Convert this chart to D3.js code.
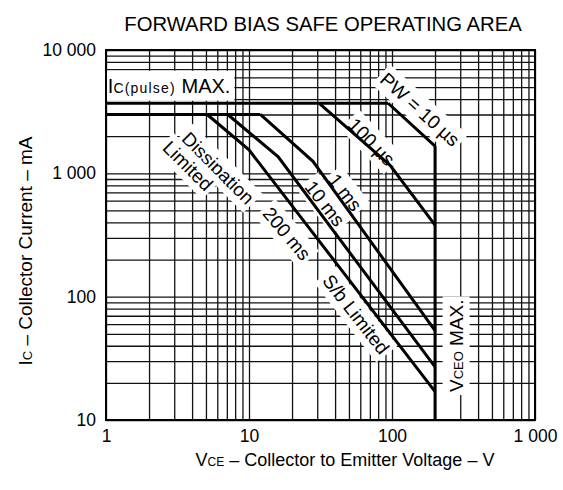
<!DOCTYPE html>
<html>
<head>
<meta charset="utf-8">
<script src="https://cdn.jsdelivr.net/npm/d3@7"></script>
<style>
	body { margin: 0; background: #fff; }
	svg { display: block; font-family: "Liberation Sans", Arial, sans-serif; }
	.grid line { stroke: #111; stroke-width: 1.3; }
	.grid .domain { display: none; }
	.curve { fill: none; stroke: #000; stroke-width: 3; stroke-linejoin: miter; }
</style>
</head>
<body>
<div id="chart"></div>
<script>
// axis ticks
var vTicks = [1, 10, 100, 1000];
var vTickLabels = ["1", "10", "100", "1 000"];
var iTicks = [10, 100, 1000, 10000];
var iTickLabels = ["10", "100", "1 000", "10 000"];

// limits, [VCE (V), IC (mA)]
var icPulseMax = [[1, 3700], [94, 3700]];
var icDcMax = [[1, 3000], [12, 3000]];
var pw10us = [[94, 3700], [200, 1660]];
var pw100us = [[31, 3700], [97, 1160], [200, 380]];
var pw1ms = [[12, 3000], [28, 1250], [200, 53]];
var pw10ms = [[7.1, 3000], [16, 1360], [200, 27]];
var pw200ms = [[5.1, 3000], [10, 1550], [200, 17]];
var vceoMax = [[200, 1660], [200, 10]];

var width = 563, height = 490;
var margin = {top: 50, right: 28, bottom: 70, left: 106};
var plotW = width - margin.left - margin.right;
var plotH = height - margin.top - margin.bottom;

var svg = d3.select("#chart").append("svg")
	.attr("width", width)
	.attr("height", height);

var x = d3.scaleLog().domain([1, 1000]).range([margin.left, margin.left + plotW]);
var y = d3.scaleLog().domain([10, 10000]).range([margin.top + plotH, margin.top]);

// title
svg.append("text")
	.attr("x", 323)
	.attr("y", 31)
	.attr("text-anchor", "middle")
	.attr("font-size", 20.3)
	.text("FORWARD BIAS SAFE OPERATING AREA");

// grid lines
svg.append("g")
	.attr("class", "grid")
	.attr("transform", "translate(0," + (margin.top + plotH) + ")")
	.call(d3.axisBottom(x).ticks(10).tickSize(-plotH).tickFormat(""));

svg.append("g")
	.attr("class", "grid")
	.attr("transform", "translate(" + margin.left + ",0)")
	.call(d3.axisLeft(y).ticks(10).tickSize(-plotW).tickFormat(""));

// tick labels
svg.append("g")
	.attr("transform", "translate(0," + (margin.top + plotH) + ")")
	.call(d3.axisBottom(x).tickValues(vTicks).tickSize(0).tickPadding(10)
		.tickFormat(function(d, i) { return vTickLabels[i]; }))
	.call(function(g) {
		g.select(".domain").remove();
		g.selectAll("text").attr("font-size", 17.5).attr("font-family", null).attr("fill", "#000");
	});

svg.append("g")
	.attr("transform", "translate(" + margin.left + ",0)")
	.call(d3.axisLeft(y).tickValues(iTicks).tickSize(0).tickPadding(10)
		.tickFormat(function(d, i) { return iTickLabels[i]; }))
	.call(function(g) {
		g.select(".domain").remove();
		g.selectAll("text").attr("font-size", 17.5).attr("font-family", null).attr("fill", "#000");
	});

// axis titles
var xTitle = svg.append("text")
	.attr("x", 345)
	.attr("y", 466)
	.attr("text-anchor", "middle")
	.attr("font-size", 18);
xTitle.append("tspan").text("V");
xTitle.append("tspan").attr("font-size", 12).text("CE");
xTitle.append("tspan").text(" \u2013 Collector to Emitter Voltage \u2013 V");

var yTitle = svg.append("text")
	.attr("transform", "translate(32,251) rotate(-90)")
	.attr("text-anchor", "middle")
	.attr("font-size", 19);
yTitle.append("tspan").text("I");
yTitle.append("tspan").attr("font-size", 13).text("C");
yTitle.append("tspan").text(" \u2013 Collector Current \u2013 mA");

// labels inside the plot, white box behind each to break the grid
function addLabel(pos, angle, parts, anchor, pad) {
	var g = svg.append("g")
		.attr("transform", "translate(" + x(pos[0]) + "," + y(pos[1]) + ") rotate(" + angle + ")");
	var t = g.append("text")
		.attr("text-anchor", anchor || "middle")
		.attr("dy", "0.35em")
		.attr("font-size", 19);
	parts.forEach(function(p) {
		var s = t.append("tspan").attr("font-size", p[1]).text(p[0]);
		if (p[2]) s.attr("letter-spacing", p[2]);
	});
	var box = t.node().getBBox();
	pad = pad || 3;
	g.insert("rect", "text")
		.attr("x", box.x - pad)
		.attr("y", box.y - pad)
		.attr("width", box.width + pad * 2)
		.attr("height", box.height + pad * 2)
		.attr("fill", "#fff");
	return g;
}

addLabel([1.03, 5100], 0, [["I", 20], ["C(pulse)", 14, 1.2], [" MAX.", 20]], "start", 4);
addLabel([157, 3300], 42, [["PW = 10 \u00b5s", 19]]);
addLabel([72, 1800], 46, [["100 \u00b5s", 19]]);
addLabel([47, 700], 52, [["1 ms", 19]]);
addLabel([34, 570], 52, [["10 ms", 19]]);
addLabel([18.4, 325], 50, [["200 ms", 19]]);
addLabel([6.07, 1100], 45, [["Dissipation", 19]]);
addLabel([3.74, 1150], 45, [["Limited", 19]]);
addLabel([56, 72], 52, [["S/b Limited", 19]]);
addLabel([280, 40], -90, [["V", 19], ["CEO", 13], [" MAX.", 19]]);

// plot frame
svg.append("rect")
	.attr("x", margin.left)
	.attr("y", margin.top)
	.attr("width", plotW)
	.attr("height", plotH)
	.attr("fill", "none")
	.attr("stroke", "#000")
	.attr("stroke-width", 2);

// limit lines
var line = d3.line()
	.x(function(d) { return x(d[0]); })
	.y(function(d) { return y(d[1]); });

[icPulseMax, icDcMax, pw10us, pw100us, pw1ms, pw10ms, pw200ms, vceoMax].forEach(function(d) {
	svg.append("path")
		.datum(d)
		.attr("class", "curve")
		.attr("d", line);
});
</script>
</body>
</html>
